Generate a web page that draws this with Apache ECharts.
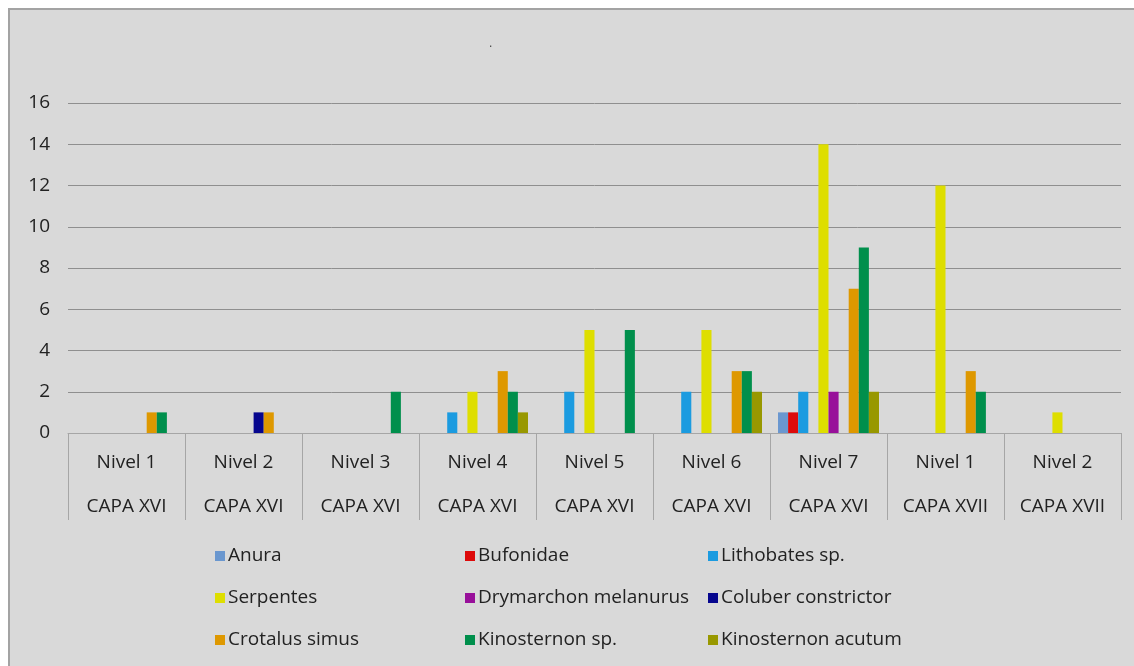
<!DOCTYPE html>
<html>
<head>
<meta charset="utf-8">
<style>
  html, body { margin: 0; padding: 0; background: #ffffff; }
  #chart { width: 1134px; height: 666px; }
</style>
<script src="https://cdn.jsdelivr.net/npm/echarts@6/dist/echarts.min.js"></script>
</head>
<body>
<div id="chart"></div>
<script>
// Excavation levels (two-line category labels)
const levels = ['Nivel 1', 'Nivel 2', 'Nivel 3', 'Nivel 4', 'Nivel 5', 'Nivel 6', 'Nivel 7', 'Nivel 1', 'Nivel 2'];
const layers = ['CAPA XVI', 'CAPA XVI', 'CAPA XVI', 'CAPA XVI', 'CAPA XVI', 'CAPA XVI', 'CAPA XVI', 'CAPA XVII', 'CAPA XVII'];

// Specimen counts per taxon, one value per level
const anura        = [0, 0, 0, 0, 0, 0, 1, 0, 0];
const bufonidae    = [0, 0, 0, 0, 0, 0, 1, 0, 0];
const lithobates   = [0, 0, 0, 1, 2, 2, 2, 0, 0];
const unlisted     = [null, null, null, null, null, null, null, null, null]; // empty slot kept in each group
const serpentes    = [0, 0, 0, 2, 5, 5, 14, 12, 1];
const drymarchon   = [0, 0, 0, 0, 0, 0, 2, 0, 0];
const coluber      = [0, 1, 0, 0, 0, 0, 0, 0, 0];
const crotalus     = [1, 1, 0, 3, 0, 3, 7, 3, 0];
const kinosternon  = [1, 0, 2, 2, 5, 3, 9, 2, 0];
const kinoAcutum   = [0, 0, 0, 1, 0, 2, 2, 0, 0];

const yTicks = [0, 2, 4, 6, 8, 10, 12, 14, 16];

const taxa = [
  { name: 'Anura', data: anura, color: '#6a97cf' },
  { name: 'Bufonidae', data: bufonidae, color: '#dd0a0a' },
  { name: 'Lithobates sp.', data: lithobates, color: '#1b9be0' },
  { name: '', data: unlisted, color: '#d9d9d9' },
  { name: 'Serpentes', data: serpentes, color: '#dede00' },
  { name: 'Drymarchon melanurus', data: drymarchon, color: '#98109a' },
  { name: 'Coluber constrictor', data: coluber, color: '#06068e' },
  { name: 'Crotalus simus', data: crotalus, color: '#de9800' },
  { name: 'Kinosternon sp.', data: kinosternon, color: '#008f4c' },
  { name: 'Kinosternon acutum', data: kinoAcutum, color: '#989800' }
];

const FONT = '"Open Sans", "Noto Sans", sans-serif';
const TEXT = '#222222';

const categories = levels.map((l, i) => l + '\n' + layers[i]);

const legendColumn = (names, left) => ({
  orient: 'vertical',
  left: left,
  top: 545,
  itemWidth: 10,
  itemHeight: 10,
  itemGap: 20,
  icon: 'rect',
  padding: 0,
  data: names,
  textStyle: { fontFamily: FONT, fontSize: 19, color: TEXT, padding: [0, 0, 0, -2], lineHeight: 22 }
});

const chart = echarts.init(document.getElementById('chart'), null, { renderer: 'canvas' });
chart.setOption({
  backgroundColor: '#ffffff',
  animation: false,
  graphic: [
    {
      type: 'rect',
      z: -10,
      shape: { x: 9, y: 9, width: 1200, height: 700 },
      style: { fill: '#d9d9d9', stroke: '#a3a3a3', lineWidth: 2 },
      silent: true
    }
  ],
  title: {
    text: '.',
    left: 484,
    top: 33,
    textStyle: { fontSize: 12, color: '#444', fontWeight: 'normal' }
  },
  grid: { left: 68, right: 13, top: 103, bottom: 233, containLabel: false },
  legend: [
    legendColumn(['Anura', 'Serpentes', 'Crotalus simus'], 215),
    legendColumn(['Bufonidae', 'Drymarchon melanurus', 'Kinosternon sp.'], 465),
    legendColumn(['Lithobates sp.', 'Coluber constrictor', 'Kinosternon acutum'], 708)
  ],
  xAxis: {
    type: 'category',
    data: categories,
    axisLine: { show: true, lineStyle: { color: '#a6a6a6', width: 1 } },
    axisTick: { show: true, interval: 0, length: 87, lineStyle: { color: '#a6a6a6', width: 1 } },
    axisLabel: {
      interval: 0,
      margin: 8,
      fontFamily: FONT,
      fontSize: 19,
      color: TEXT,
      lineHeight: 44
    }
  },
  yAxis: {
    type: 'value',
    min: 0,
    max: 16,
    interval: 2,
    axisLine: { show: false },
    axisTick: { show: false },
    axisLabel: {
      margin: 18,
      fontFamily: FONT,
      fontSize: 19,
      color: TEXT,
      formatter: v => (yTicks.includes(v) ? String(v) : '')
    },
    splitLine: { lineStyle: { color: '#8f8f8f', width: 1 } }
  },
  series: taxa.map(t => ({
    name: t.name,
    type: 'bar',
    data: t.data,
    barGap: '0%',
    barCategoryGap: '13.7%',
    itemStyle: { color: t.color, borderWidth: 0 },
    emphasis: { disabled: true }
  }))
});
</script>
</body>
</html>
